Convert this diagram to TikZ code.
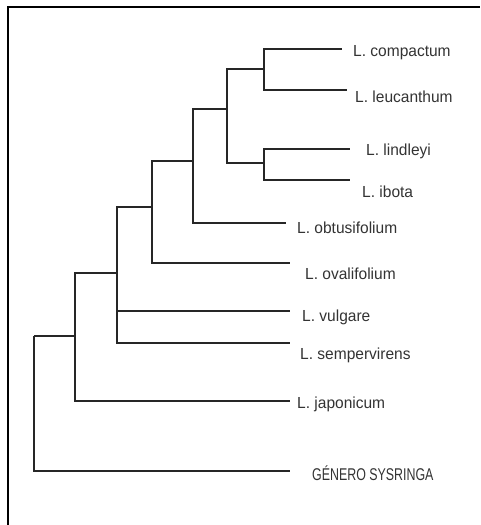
\documentclass[tikz,border=0pt]{standalone}
\usepackage{fontspec}
\setmainfont{Liberation Sans}
\begin{document}
\begin{tikzpicture}[x=1pt,y=-1pt,
  br/.style={line width=1.4pt,black!85},
  frame/.style={line width=2.4pt,black},
  lab/.style={anchor=west,inner sep=0pt,text=black!80,font=\fontsize{16}{18}\selectfont,xscale=0.97},
  labcaps/.style={anchor=west,inner sep=0pt,text=black!80,font=\fontsize{17}{19}\selectfont,xscale=0.73}]
\useasboundingbox (0,0) rectangle (480,525);
\draw[frame] (8,525) -- (8,7) -- (480,7);
% internal nodes
\coordinate (root) at (34,336);
\coordinate (n7) at (75,336);
\coordinate (n6) at (117,273);
\coordinate (n5) at (152,207);
\coordinate (n4) at (193,161);
\coordinate (n3) at (227,109);
\coordinate (n1) at (264,69);
\coordinate (n2) at (264,163);
% leaf ends
\coordinate (ecomp) at (342,49);
\coordinate (eleuc) at (347,90);
\coordinate (elind) at (350,149);
\coordinate (eibot) at (350,180);
\coordinate (eobtu) at (286,223);
\coordinate (eoval) at (290,263);
\coordinate (evulg) at (290,311);
\coordinate (esemp) at (290,343);
\coordinate (ejapo) at (290,401);
\coordinate (esyri) at (290,471);
% branches
\draw[br] (n1) |- (ecomp);
\draw[br] (n1) |- (eleuc);
\draw[br] (n2) |- (elind);
\draw[br] (n2) |- (eibot);
\draw[br] (n3) |- (n1);
\draw[br] (n3) |- (n2);
\draw[br] (n4) |- (n3);
\draw[br] (n4) |- (eobtu);
\draw[br] (n5) |- (n4);
\draw[br] (n5) |- (eoval);
\draw[br] (n6) |- (n5);
\draw[br] (n6) |- (evulg);
\draw[br] (n6) |- (esemp);
\draw[br] (n7) |- (n6);
\draw[br] (n7) |- (ejapo);
\draw[br] (root) |- (n7);
\draw[br] (root) |- (esyri);
% labels
\node[lab] (lcomp) at (353,53) {L. compactum};
\node[lab] (lleuc) at (355,97) {L. leucanthum};
\node[lab] (llind) at (366,151) {L. lindleyi};
\node[lab] (libot) at (362,192) {L. ibota};
\node[lab] (lobtu) at (297,228) {L. obtusifolium};
\node[lab] (loval) at (305,274) {L. ovalifolium};
\node[lab] (lvulg) at (302,317) {L. vulgare};
\node[lab] (lsemp) at (300,355) {L. sempervirens};
\node[lab] (ljapo) at (297,404) {L. japonicum};
\node[labcaps] (lsyri) at (312,473) {GÉNERO SYSRINGA};
\end{tikzpicture}
\end{document}
